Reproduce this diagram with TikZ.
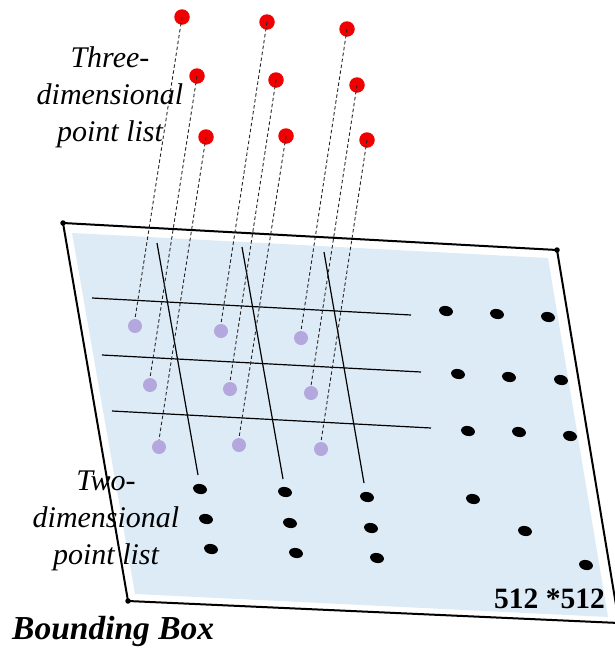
\documentclass[tikz,border=0pt]{standalone}
\usepackage{fontspec}
\setmainfont{Liberation Serif}
\usetikzlibrary{shapes.geometric}
\definecolor{planeblue}{RGB}{221,235,247}
\definecolor{lilac}{RGB}{180,167,222}
\definecolor{hotred}{RGB}{240,0,0}
\begin{document}
\begin{tikzpicture}[x=1pt,y=-1pt,
  frame/.style={line width=2pt,black},
  gridline/.style={line width=1.2pt,black},
  proj/.style={line width=0.9pt,dash pattern=on 3.5pt off 2.5pt,black!85},
  reddot/.style={circle,fill=hotred,inner sep=0pt,minimum width=14pt,minimum height=15.5pt},
  lildot/.style={circle,fill=lilac,inner sep=0pt,minimum size=14pt},
  blkdot/.style={ellipse,fill=black,inner sep=0pt,minimum width=14pt,minimum height=10pt,rotate=-12},
  corner/.style={circle,fill=black,inner sep=0pt,minimum size=5.5pt},
  lbl/.style={font=\fontsize{30}{37}\selectfont\itshape,align=center,inner sep=0pt}
]
\useasboundingbox (0,0) rectangle (615,648);
% plane
\fill[planeblue] (72,233) -- (548,258) -- (608,617) -- (135,594) -- cycle;
\node[corner] (c1) at (63,223) {};
\node[corner] (c2) at (557,250) {};
\node[corner] (c3) at (128,601) {};
\coordinate (c4) at (619,623);
\draw[frame] (c1.center) -- (c2.center) -- (c4) -- (c3.center) -- cycle;
% grid lines
\draw[gridline] (92,298) -- (411,315);
\draw[gridline] (102,355) -- (421,372);
\draw[gridline] (112,411) -- (431,428);
\draw[gridline] (157,243) -- (198,475);
\draw[gridline] (242,247) -- (283,479);
\draw[gridline] (324,252) -- (364,483);
% red points
\node[reddot] (r11) at (182,17) {};
\node[reddot] (r21) at (197,76) {};
\node[reddot] (r31) at (206,137) {};
\node[reddot] (r12) at (267,22) {};
\node[reddot] (r22) at (276,80) {};
\node[reddot] (r32) at (286,136) {};
\node[reddot] (r13) at (347,29) {};
\node[reddot] (r23) at (357,85) {};
\node[reddot] (r33) at (367,140) {};
% lilac points
\node[lildot] (p11) at (135,326) {};
\node[lildot] (p21) at (150,385) {};
\node[lildot] (p31) at (159,447) {};
\node[lildot] (p12) at (221,331) {};
\node[lildot] (p22) at (230,389) {};
\node[lildot] (p32) at (239,445) {};
\node[lildot] (p13) at (301,338) {};
\node[lildot] (p23) at (311,393) {};
\node[lildot] (p33) at (321,449) {};
% projections
\foreach \i in {1,2,3}{\foreach \j in {1,2,3}{
  \draw[proj] (r\i\j.center) -- (p\i\j.north);
}}
% black points, left block
\node[blkdot] (b11) at (200,489) {};
\node[blkdot] (b21) at (206,519) {};
\node[blkdot] (b31) at (211,549) {};
\node[blkdot] (b12) at (285,492) {};
\node[blkdot] (b22) at (290,523) {};
\node[blkdot] (b32) at (296,553) {};
\node[blkdot] (b13) at (367,497) {};
\node[blkdot] (b23) at (371,528) {};
\node[blkdot] (b33) at (377,558) {};
% right block
\node[blkdot] (q11) at (446,311) {};
\node[blkdot] (q12) at (497,314) {};
\node[blkdot] (q13) at (548,317) {};
\node[blkdot] (q21) at (458,374) {};
\node[blkdot] (q22) at (509,377) {};
\node[blkdot] (q23) at (561,380) {};
\node[blkdot] (q31) at (468,431) {};
\node[blkdot] (q32) at (519,432) {};
\node[blkdot] (q33) at (570,436) {};
% diagonal
\node[blkdot] (d1) at (473,499) {};
\node[blkdot] (d2) at (525,531) {};
\node[blkdot] (d3) at (586,565) {};
% labels
\node[lbl] (three) at (110,97) {Three-\\dimensional\\point list};
\node[lbl] (two) at (106,521) {Two-\\dimensional\\point list};
\node[font=\fontsize{33.5}{36}\selectfont\bfseries\itshape,inner sep=0pt,anchor=base west] (bb) at (12,639) {Bounding Box};
\node[font=\fontsize{29.5}{32}\selectfont\bfseries,inner sep=0pt,anchor=base east] (size) at (605,608) {512 *512};
\end{tikzpicture}
\end{document}
